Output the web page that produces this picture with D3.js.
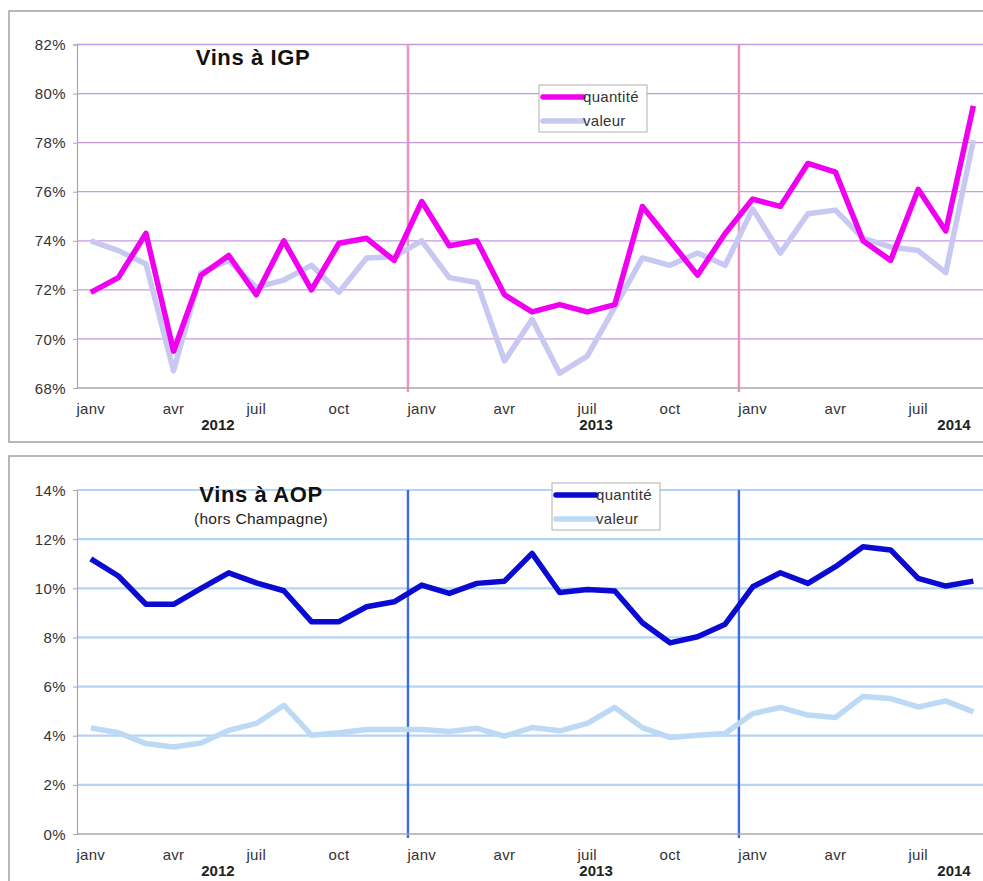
<!DOCTYPE html>
<html>
<head>
<meta charset="utf-8">
<script src="https://cdn.jsdelivr.net/npm/d3@7"></script>
<style>
  html, body { margin: 0; padding: 0; background: #fff; }
  svg { display: block; font-family: "Liberation Sans", Arial, Helvetica, sans-serif; }
</style>
</head>
<body>
<svg id="chart" width="983" height="881"></svg>
<script>
// ---------- DATA ----------
const months = ["janv","févr","mars","avr","mai","juin","juil","août","sept","oct","nov","déc",
                "janv","févr","mars","avr","mai","juin","juil","août","sept","oct","nov","déc",
                "janv","févr","mars","avr","mai","juin","juil","août","sept"];
const years = ["2012","2013","2014"];
const yearLabelPos = [5.11, 18.82, 31.8]; // category-unit positions of year labels

const igpQuantite = [71.9,72.5,74.3,69.5,72.6,73.4,71.8,74.0,72.0,73.9,74.1,73.2,
                     75.6,73.8,74.0,71.8,71.1,71.4,71.1,71.4,75.4,74.0,72.6,74.3,
                     75.7,75.4,77.15,76.8,74.0,73.2,76.1,74.4,79.5];
const igpValeur   = [74.0,73.6,73.05,68.7,72.7,73.2,72.1,72.4,73.0,71.9,73.3,73.35,
                     74.0,72.5,72.3,69.1,70.8,68.6,69.3,71.3,73.3,73.0,73.5,73.0,
                     75.3,73.5,75.1,75.25,74.1,73.75,73.6,72.7,78.1];
const aopQuantite = [11.2,10.5,9.35,9.35,10.0,10.63,10.22,9.9,8.64,8.64,9.25,9.45,
                     10.13,9.79,10.2,10.29,11.42,9.83,9.95,9.89,8.6,7.78,8.03,8.54,
                     10.06,10.63,10.2,10.88,11.69,11.56,10.4,10.09,10.29];
const aopValeur   = [4.32,4.12,3.68,3.54,3.7,4.22,4.5,5.24,4.02,4.12,4.25,4.25,
                     4.25,4.17,4.3,3.98,4.33,4.2,4.5,5.15,4.33,3.93,4.02,4.09,
                     4.9,5.15,4.84,4.74,5.6,5.51,5.17,5.42,4.97];
const igpTicks = [68,70,72,74,76,78,80,82];
const aopTicks = [0,2,4,6,8,10,12,14];
const seriesNames = ["quantité","valeur"];

// ---------- DRAW ----------
const svg = d3.select("#chart");
const font = "'Liberation Sans', Arial, Helvetica, sans-serif";

function panel(cfg) {
  const g = svg.append("g");
  g.append("rect")
    .attr("x", cfg.box[0]).attr("y", cfg.box[1])
    .attr("width", cfg.box[2]).attr("height", cfg.box[3])
    .attr("fill", "#fff").attr("stroke", "#a0a0a0").attr("stroke-width", 1.5);

  const x = d3.scaleLinear().domain([0, months.length]).range([77, 77 + months.length * 27.58]);
  const y = d3.scaleLinear().domain(cfg.domain).range(cfg.yRange);

  g.append("g").selectAll("line").data(cfg.ticks.slice(1)).join("line")
    .attr("x1", x(0)).attr("x2", x(months.length))
    .attr("y1", d => y(d)).attr("y2", d => y(d))
    .attr("stroke", cfg.gridColor).attr("stroke-width", cfg.gridWidth);

  g.append("g").selectAll("line").data([12, 24]).join("line")
    .attr("x1", d => x(d)).attr("x2", d => x(d))
    .attr("y1", y(cfg.domain[1])).attr("y2", y(cfg.domain[0]) + 4)
    .attr("stroke", cfg.sepColor).attr("stroke-width", 2.4);

  const yAxis = d3.axisLeft(y).tickValues(cfg.ticks).tickSize(4).tickFormat(d => d + "%");
  const ya = g.append("g").attr("transform", `translate(${x(0)},0)`).call(yAxis);
  ya.select(".domain").attr("stroke", "#a8a8a8").attr("stroke-width", 1.2);
  ya.selectAll(".tick line").attr("stroke", "#a8a8a8");
  ya.selectAll(".tick text").attr("x", -11).attr("dy", "0.34em")
    .style("font-family", font).style("font-size", "15px").style("letter-spacing", "0.4px")
    .attr("fill", "#333");

  g.append("line").attr("x1", x(0)).attr("x2", x(months.length))
    .attr("y1", y(cfg.domain[0])).attr("y2", y(cfg.domain[0]))
    .attr("stroke", "#a8a8a8").attr("stroke-width", 1.5);

  const shown = months.map((m, i) => ({m, i})).filter(d => d.i % 3 === 0);
  g.append("g").selectAll("text").data(shown).join("text")
    .attr("x", d => x(d.i + 0.5)).attr("y", y(cfg.domain[0]) + 26)
    .attr("text-anchor", "middle").style("font-family", font).style("font-size", "15px")
    .style("letter-spacing", "0.3px").attr("fill", "#333").text(d => d.m);

  g.append("g").selectAll("text").data(years).join("text")
    .attr("x", (d, i) => x(yearLabelPos[i])).attr("y", y(cfg.domain[0]) + 42)
    .attr("text-anchor", "middle").style("font-family", font).style("font-size", "15px")
    .style("font-weight", "bold").attr("fill", "#222").text(d => d);

  const line = d3.line().x((d, i) => x(i + 0.5)).y(d => y(d)).curve(d3.curveLinear);
  g.append("path").datum(cfg.valeur).attr("d", line).attr("fill", "none")
    .attr("stroke", cfg.colors[1]).attr("stroke-width", 5.5).attr("stroke-linejoin", "round");
  g.append("path").datum(cfg.quantite).attr("d", line).attr("fill", "none")
    .attr("stroke", cfg.colors[0]).attr("stroke-width", 5.5).attr("stroke-linejoin", "round");

  g.append("text").attr("x", cfg.titlePos[0]).attr("y", cfg.titlePos[1])
    .attr("text-anchor", "middle").style("font-family", font).style("font-size", "22px")
    .style("letter-spacing", "0.6px").style("font-weight", "bold").attr("fill", "#111").text(cfg.title);
  if (cfg.subtitle) {
    g.append("text").attr("x", cfg.titlePos[0]).attr("y", cfg.titlePos[1] + 22)
      .attr("text-anchor", "middle").style("font-family", font).style("font-size", "15.5px")
      .style("letter-spacing", "0.3px").attr("fill", "#222").text(cfg.subtitle);
  }

  const [lx, ly] = cfg.legendPos;
  const lg = g.append("g").attr("transform", `translate(${lx},${ly})`);
  lg.append("rect").attr("width", 108).attr("height", 47)
    .attr("fill", "#fff").attr("stroke", "#b0b0b0").attr("stroke-width", 1);
  seriesNames.forEach((s, i) => {
    lg.append("line").attr("x1", 4).attr("x2", 44)
      .attr("y1", 12 + i * 24).attr("y2", 12 + i * 24)
      .attr("stroke", cfg.colors[i]).attr("stroke-width", 5.5).attr("stroke-linecap", "round");
    lg.append("text").attr("x", 44).attr("y", 12 + i * 24).attr("dy", "0.35em")
      .style("font-family", font).style("font-size", "15px").style("letter-spacing", "0.3px")
      .attr("fill", "#333").text(s);
  });
}

panel({
  box: [9, 11, 990, 431],
  domain: [68, 82], yRange: [388, 44.5], ticks: igpTicks,
  gridColor: "#c49ae0", gridWidth: 1.3, sepColor: "#f290bd",
  quantite: igpQuantite, valeur: igpValeur,
  colors: ["#f000f0", "#c8c8f2"],
  title: "Vins à IGP", titlePos: [253, 65],
  legendPos: [539, 85]
});

panel({
  box: [9, 456, 990, 440],
  domain: [0, 14], yRange: [834, 490], ticks: aopTicks,
  gridColor: "#b4d4f4", gridWidth: 2.2, sepColor: "#3a6ce6",
  quantite: aopQuantite, valeur: aopValeur,
  colors: ["#0a0ad2", "#bcdaf6"],
  title: "Vins à AOP", subtitle: "(hors Champagne)", titlePos: [261, 502],
  legendPos: [552, 483]
});
</script>
</body>
</html>
